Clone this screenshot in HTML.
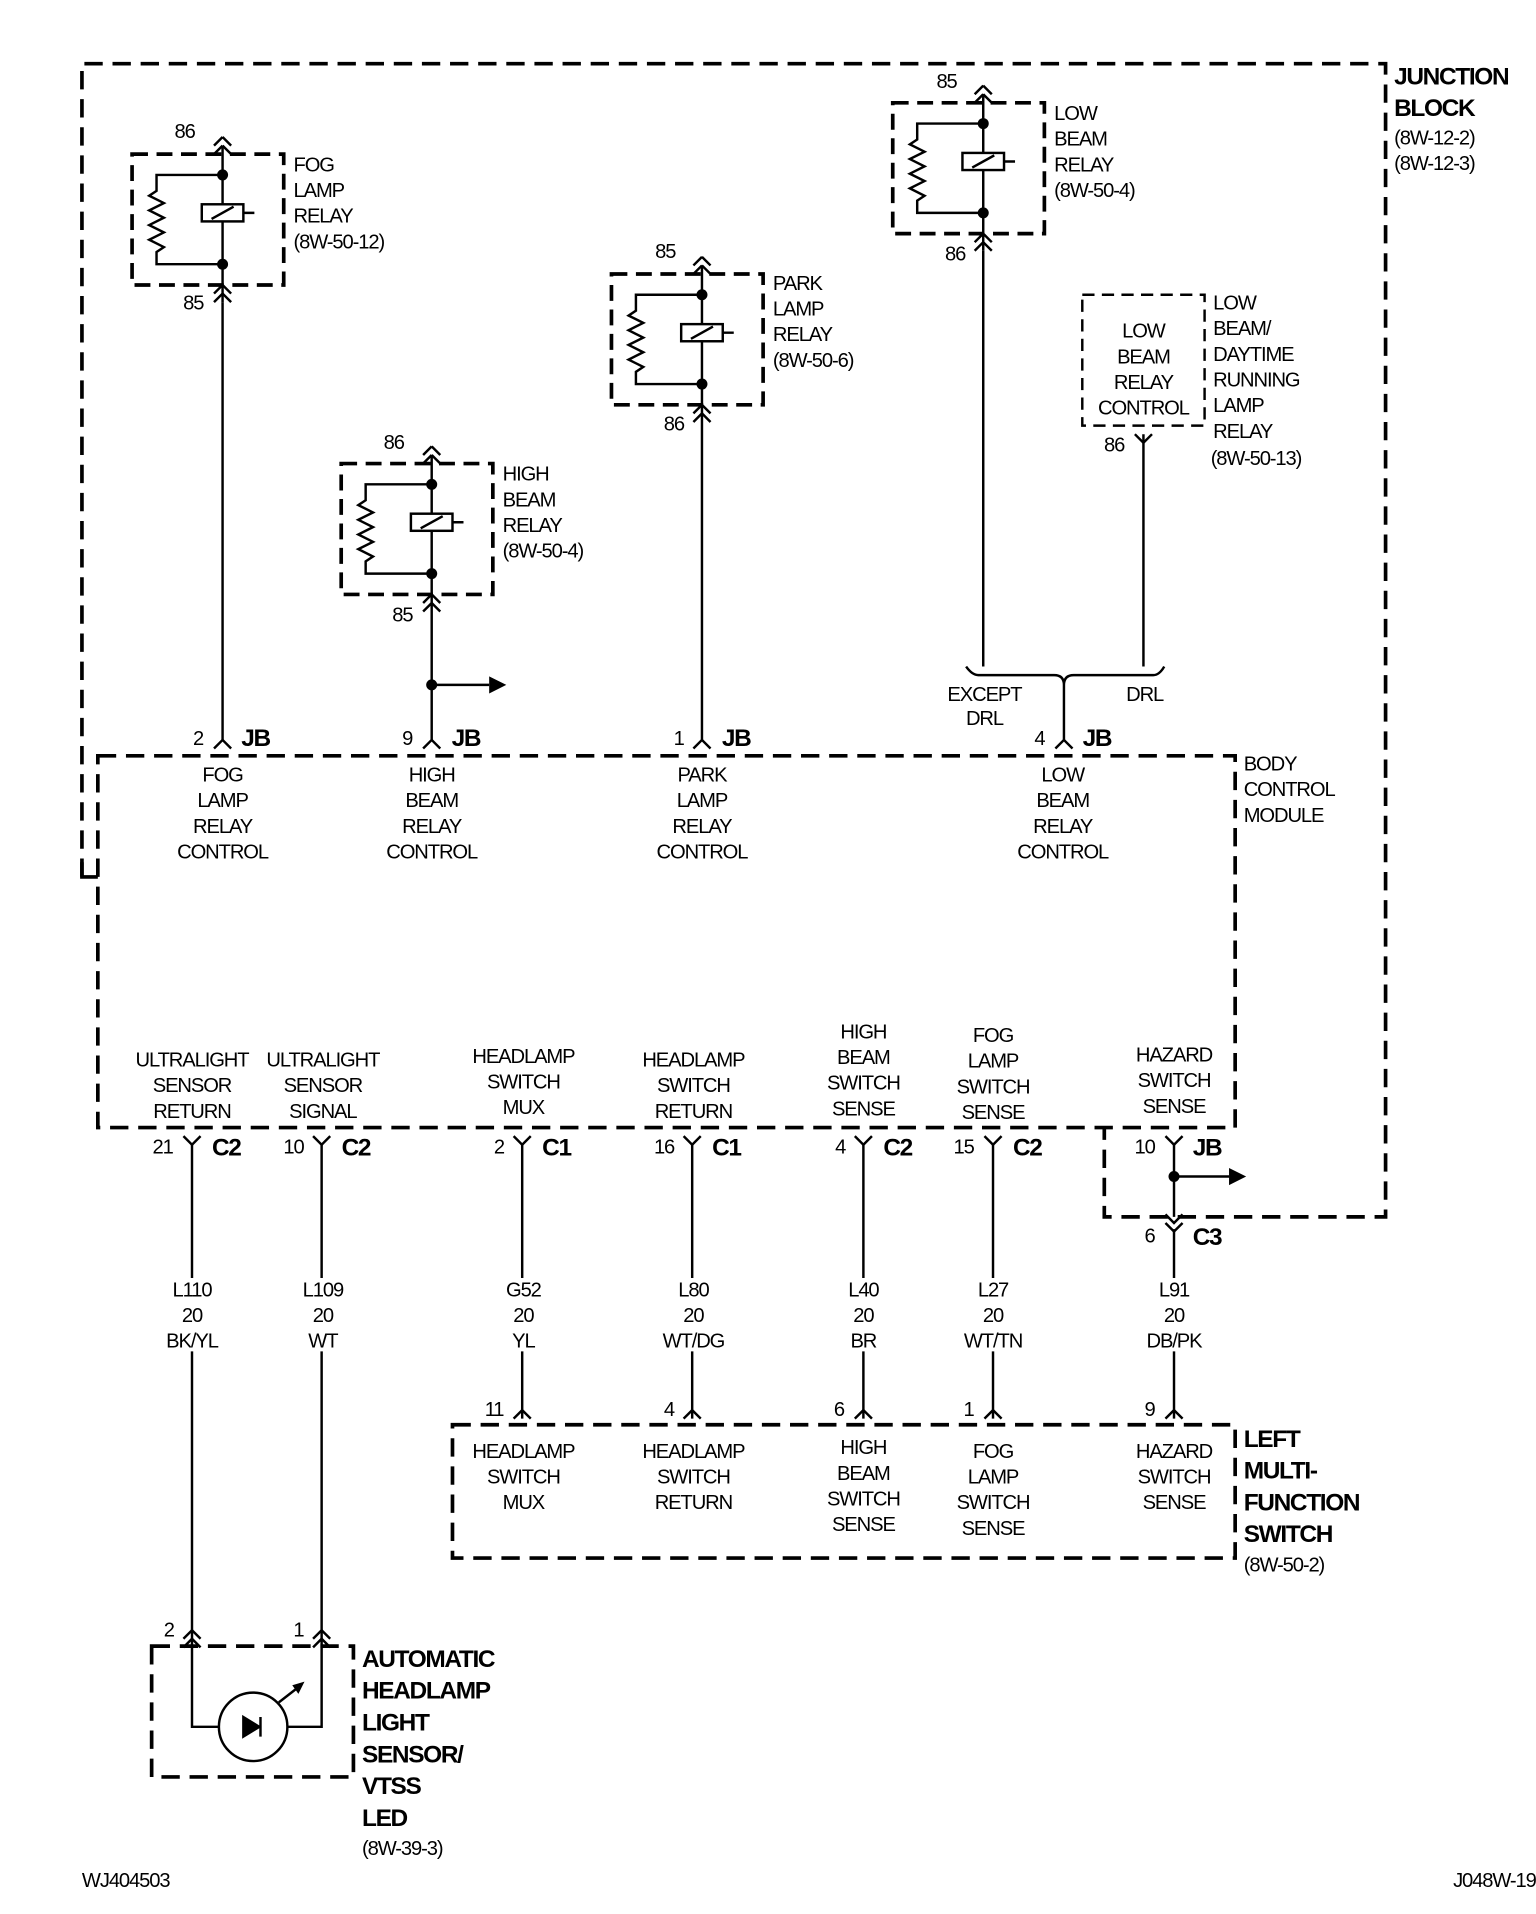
<!DOCTYPE html>
<html><head><meta charset="utf-8"><style>
html,body{margin:0;padding:0;background:#fff}
svg{display:block}
text{font-family:"Liberation Sans",Arial,sans-serif;font-size:16.5px;fill:#000;text-anchor:middle;letter-spacing:-0.9px}
text.b{font-weight:bold;font-size:20px;letter-spacing:-1.1px}
g.l text{text-anchor:start}
</style></head><body>
<svg width="1536" height="1914" viewBox="0 0 1256 1565" xmlns="http://www.w3.org/2000/svg">
<defs>
<g id="relay">
 <rect x="-74" y="0" width="124" height="107" fill="none" stroke="#000" stroke-width="3" stroke-dasharray="13,7"/>
 <path d="M0,-14 l-7,7 M0,-14 l7,7 M0,-7 l-7,7 M0,-7 l7,7" stroke="#000" stroke-width="2" fill="none"/>
 <path d="M0,-7 V121" stroke="#000" stroke-width="2" fill="none"/>
 <path d="M0,114 l-7,7 M0,114 l7,7 M0,107 l-7,7 M0,107 l7,7" stroke="#000" stroke-width="2" fill="none"/>
 <circle cx="0" cy="17" r="4.5"/><circle cx="0" cy="90" r="4.5"/>
 <path d="M0,17 H-54 V30 l-6,4 l12,6 l-12,6 l12,6 l-12,6 l12,6 l-12,6 l12,6 l-6,4 V90 H0" stroke="#000" stroke-width="2" fill="none"/>
 <rect x="-17" y="41" width="34" height="14" fill="#fff" stroke="#000" stroke-width="2"/>
 <path d="M-9,53 L9,43 M17,48 H26" stroke="#000" stroke-width="2"/>
</g>
</defs>
<g fill="none" stroke="#000" stroke-width="3" stroke-dasharray="15,8">
 <path d="M67,717 V52 H1133 V995 H903 V922"/>
 <rect x="80" y="618" width="930" height="304"/>
 <rect x="370" y="1165" width="640" height="109"/>
 <rect x="124" y="1346" width="165" height="107"/>
</g>
<path d="M67,705 V717 H80" stroke="#000" stroke-width="3" fill="none"/>
<rect x="885" y="241" width="100" height="107" fill="none" stroke="#000" stroke-width="2" stroke-dasharray="10,6"/>
<use href="#relay" x="182" y="126"/>
<use href="#relay" x="353" y="379"/>
<use href="#relay" x="574" y="224"/>
<use href="#relay" x="804" y="84"/>
<g stroke="#000" stroke-width="2" fill="none">
 <path d="M182,247 V605 M353,500 V605 M574,345 V605 M804,205 V545 M935,355 V545"/>
 <path d="M928,355 l7,7 l7,-7"/>
 <path d="M353,560 H400"/>
 <path d="M960,962 H1005"/>
 <path d="M790,545 Q795,552 800,552 H862 Q870,552 870,560 Q870,552 878,552 H943 Q948,552 952,545 M870,560 V605"/>
 <path d="M175,612 l7,-7 l7,7 M346,612 l7,-7 l7,7 M567,612 l7,-7 l7,7 M863,612 l7,-7 l7,7"/>
 <path d="M157,935 V1045 M157,1105 V1346 M263,935 V1045 M263,1105 V1346 M427,935 V1045 M427,1105 V1160 M566,935 V1045 M566,1105 V1160 M706,935 V1045 M706,1105 V1160 M812,935 V1045 M812,1105 V1160 M960,935 V995 M960,1005 V1045 M960,1105 V1160"/>
 <path d="M150,929 l7,7 l7,-7 M256,929 l7,7 l7,-7 M420,929 l7,7 l7,-7 M559,929 l7,7 l7,-7 M699,929 l7,7 l7,-7 M805,929 l7,7 l7,-7 M953,929 l7,7 l7,-7 M953,1000 l7,7 l7,-7 M953,993 l7,7 l7,-7"/>
 <path d="M420,1160 l7,-7 l7,7 M559,1160 l7,-7 l7,7 M699,1160 l7,-7 l7,7 M805,1160 l7,-7 l7,7 M953,1160 l7,-7 l7,7"/>
 <path d="M150,1340 l7,-7 l7,7 M150,1347 l7,-7 l7,7 M256,1340 l7,-7 l7,7 M256,1347 l7,-7 l7,7"/>
 <path d="M157,1346 V1412 H179 M263,1346 V1412 H235"/>
 <circle cx="207" cy="1412" r="28"/>
 <path d="M228,1392 L246,1378"/>
</g>
<path d="M400,553 L414,560 L400,567Z M1005,955 L1019,962 L1005,969Z M249,1375 L244,1385 L239,1378Z"/>
<path d="M199,1404 L199,1420 L212,1412Z M213,1404 V1420" stroke="#000" stroke-width="2"/>
<circle cx="353" cy="560" r="4.5"/><circle cx="960" cy="962" r="4.5"/>
<g>
 <text x="151" y="113">86</text><text x="158" y="253">85</text>
 <text x="322" y="367">86</text><text x="329" y="508">85</text>
 <text x="544" y="211">85</text><text x="551" y="352">86</text>
 <text x="774" y="72">85</text><text x="781" y="213">86</text>
 <text x="911" y="369">86</text>
 <g class="l">
 <text x="240" y="140">FOG</text><text x="240" y="161">LAMP</text><text x="240" y="182">RELAY</text><text x="240" y="203">(8W-50-12)</text>
 <text x="411" y="393">HIGH</text><text x="411" y="414">BEAM</text><text x="411" y="435">RELAY</text><text x="411" y="456">(8W-50-4)</text>
 <text x="632" y="237">PARK</text><text x="632" y="258">LAMP</text><text x="632" y="279">RELAY</text><text x="632" y="300">(8W-50-6)</text>
 <text x="862" y="98">LOW</text><text x="862" y="119">BEAM</text><text x="862" y="140">RELAY</text><text x="862" y="161">(8W-50-4)</text>
 <text x="992" y="253">LOW</text><text x="992" y="274">BEAM/</text><text x="992" y="295">DAYTIME</text><text x="992" y="316">RUNNING</text><text x="992" y="337">LAMP</text><text x="992" y="358">RELAY</text><text x="990" y="380">(8W-50-13)</text>
 <text x="1140" y="69" class="b">JUNCTION</text><text x="1140" y="95" class="b">BLOCK</text><text x="1140" y="118">(8W-12-2)</text><text x="1140" y="139">(8W-12-3)</text>
 <text x="1017" y="630">BODY</text><text x="1017" y="651">CONTROL</text><text x="1017" y="672">MODULE</text>
 <text x="1017" y="1183" class="b">LEFT</text><text x="1017" y="1209" class="b">MULTI-</text><text x="1017" y="1235" class="b">FUNCTION</text><text x="1017" y="1261" class="b">SWITCH</text><text x="1017" y="1285">(8W-50-2)</text>
 <text x="296" y="1363" class="b">AUTOMATIC</text><text x="296" y="1389" class="b">HEADLAMP</text><text x="296" y="1415" class="b">LIGHT</text><text x="296" y="1441" class="b">SENSOR/</text><text x="296" y="1467" class="b">VTSS</text><text x="296" y="1493" class="b">LED</text><text x="296" y="1517">(8W-39-3)</text>
 <text x="67" y="1543">WJ404503</text>
 </g>
 <text x="1222" y="1543">J048W-19</text>
 <text x="935" y="276">LOW</text><text x="935" y="297">BEAM</text><text x="935" y="318">RELAY</text><text x="935" y="339">CONTROL</text>
 <text x="805" y="573">EXCEPT</text><text x="805" y="593">DRL</text><text x="936" y="573">DRL</text>
 <text x="162" y="609">2</text><text x="209" y="610" class="b">JB</text>
 <text x="333" y="609">9</text><text x="381" y="610" class="b">JB</text>
 <text x="555" y="609">1</text><text x="602" y="610" class="b">JB</text>
 <text x="850" y="609">4</text><text x="897" y="610" class="b">JB</text>
 <text x="182" y="639">FOG</text><text x="182" y="660">LAMP</text><text x="182" y="681">RELAY</text><text x="182" y="702">CONTROL</text>
 <text x="353" y="639">HIGH</text><text x="353" y="660">BEAM</text><text x="353" y="681">RELAY</text><text x="353" y="702">CONTROL</text>
 <text x="574" y="639">PARK</text><text x="574" y="660">LAMP</text><text x="574" y="681">RELAY</text><text x="574" y="702">CONTROL</text>
 <text x="869" y="639">LOW</text><text x="869" y="660">BEAM</text><text x="869" y="681">RELAY</text><text x="869" y="702">CONTROL</text>
 <text x="157" y="872">ULTRALIGHT</text><text x="157" y="893">SENSOR</text><text x="157" y="914">RETURN</text>
 <text x="264" y="872">ULTRALIGHT</text><text x="264" y="893">SENSOR</text><text x="264" y="914">SIGNAL</text>
 <text x="428" y="869">HEADLAMP</text><text x="428" y="890">SWITCH</text><text x="428" y="911">MUX</text>
 <text x="567" y="872">HEADLAMP</text><text x="567" y="893">SWITCH</text><text x="567" y="914">RETURN</text>
 <text x="706" y="849">HIGH</text><text x="706" y="870">BEAM</text><text x="706" y="891">SWITCH</text><text x="706" y="912">SENSE</text>
 <text x="812" y="852">FOG</text><text x="812" y="873">LAMP</text><text x="812" y="894">SWITCH</text><text x="812" y="915">SENSE</text>
 <text x="960" y="868">HAZARD</text><text x="960" y="889">SWITCH</text><text x="960" y="910">SENSE</text>
 <text x="133" y="943">21</text><text x="185" y="945" class="b">C2</text>
 <text x="240" y="943">10</text><text x="291" y="945" class="b">C2</text>
 <text x="408" y="943">2</text><text x="455" y="945" class="b">C1</text>
 <text x="543" y="943">16</text><text x="594" y="945" class="b">C1</text>
 <text x="687" y="943">4</text><text x="734" y="945" class="b">C2</text>
 <text x="788" y="943">15</text><text x="840" y="945" class="b">C2</text>
 <text x="936" y="943">10</text><text x="987" y="945" class="b">JB</text>
 <text x="940" y="1016">6</text><text x="987" y="1018" class="b">C3</text>
 <text x="157" y="1060">L110</text><text x="157" y="1081">20</text><text x="157" y="1102">BK/YL</text>
 <text x="264" y="1060">L109</text><text x="264" y="1081">20</text><text x="264" y="1102">WT</text>
 <text x="428" y="1060">G52</text><text x="428" y="1081">20</text><text x="428" y="1102">YL</text>
 <text x="567" y="1060">L80</text><text x="567" y="1081">20</text><text x="567" y="1102">WT/DG</text>
 <text x="706" y="1060">L40</text><text x="706" y="1081">20</text><text x="706" y="1102">BR</text>
 <text x="812" y="1060">L27</text><text x="812" y="1081">20</text><text x="812" y="1102">WT/TN</text>
 <text x="960" y="1060">L91</text><text x="960" y="1081">20</text><text x="960" y="1102">DB/PK</text>
 <text x="404" y="1158">11</text><text x="547" y="1158">4</text><text x="686" y="1158">6</text><text x="792" y="1158">1</text><text x="940" y="1158">9</text>
 <text x="428" y="1192">HEADLAMP</text><text x="428" y="1213">SWITCH</text><text x="428" y="1234">MUX</text>
 <text x="567" y="1192">HEADLAMP</text><text x="567" y="1213">SWITCH</text><text x="567" y="1234">RETURN</text>
 <text x="706" y="1189">HIGH</text><text x="706" y="1210">BEAM</text><text x="706" y="1231">SWITCH</text><text x="706" y="1252">SENSE</text>
 <text x="812" y="1192">FOG</text><text x="812" y="1213">LAMP</text><text x="812" y="1234">SWITCH</text><text x="812" y="1255">SENSE</text>
 <text x="960" y="1192">HAZARD</text><text x="960" y="1213">SWITCH</text><text x="960" y="1234">SENSE</text>
 <text x="138" y="1338">2</text><text x="244" y="1338">1</text>
</g>
</svg>
</body></html>
